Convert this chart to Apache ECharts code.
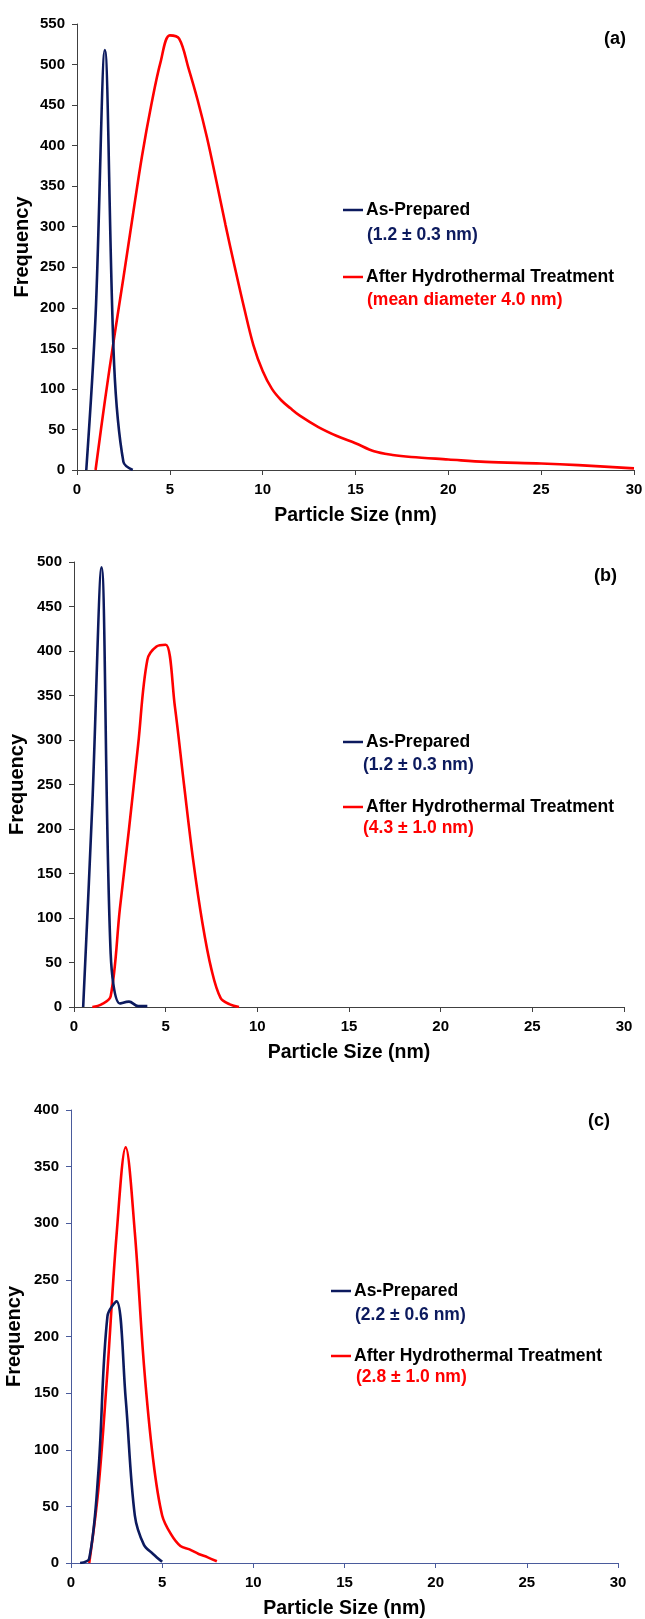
<!DOCTYPE html>
<html>
<head>
<meta charset="utf-8" />
<title>Particle size distributions</title>
<script src="https://cdn.jsdelivr.net/npm/echarts@6/dist/echarts.min.js"></script>
<style>
  html, body { margin: 0; padding: 0; background: #fff; }
  #chart { width: 645px; height: 1619px; }
</style>
</head>
<body>
<div id="chart"></div>
<script>
// ---- data ----
var seriesNames = ['As-Prepared', 'After Hydrothermal Treatment'];

// (a)
var sizeA_prep = [0.5, 1.0, 1.5, 2.0, 2.5, 3.0];
var freqA_prep = [0, 190, 518, 130, 10, 0];
var sizeA_hyd = [1.0, 1.5, 2.0, 2.5, 3.0, 3.5, 4.0, 4.5, 5.0, 5.5, 6.0, 6.5, 7.0, 7.5, 8.0, 8.5, 9.0, 9.5, 10, 10.5, 11, 11.5, 12, 13, 14, 15, 16, 17, 18, 20, 22, 25, 27, 30];
var freqA_hyd = [0, 85, 163, 237, 313, 387, 450, 503, 536, 532, 496, 456, 410, 357, 302, 250, 200, 154, 122, 100, 86, 76, 67, 53, 42, 33, 23, 18.5, 16, 13, 10, 8, 6, 2];

// (b)
var sizeB_prep = [0.5, 1.0, 1.5, 2.0, 2.5, 3.0, 3.5, 4.0];
var freqB_prep = [0, 228, 494, 60, 4, 6, 1, 1];
var sizeB_hyd = [1.0, 1.5, 2.0, 2.5, 3.0, 3.5, 4.0, 4.5, 5.0, 5.5, 6.0, 6.5, 7.0, 7.5, 8.0, 8.5, 9.0];
var freqB_hyd = [0, 3, 12, 110, 200, 295, 390, 405, 407, 338, 250, 165, 95, 42, 10, 3, 0];

// (c)
var sizeC_prep = [0.5, 1.0, 1.5, 2.0, 2.5, 3.0, 3.5, 4.0, 4.5, 5.0];
var freqC_prep = [0, 4, 80, 218, 231, 145, 42, 16, 8, 1];
var sizeC_hyd = [1.0, 1.5, 2.0, 2.5, 3.0, 3.5, 4.0, 4.5, 5.0, 5.5, 6.0, 6.5, 7.0, 7.5, 8.0];
var freqC_hyd = [0, 65, 170, 290, 367, 292, 175, 92, 42, 25, 15, 12, 8, 5, 1.5];

// axis ticks
var xTicks = { min: 0, max: 30, interval: 5 };
var yMaxA = 550, yMaxB = 500, yMaxC = 400, yStep = 50;

// legend second lines
var noteA = ['(1.2 \u00b1 0.3 nm)', '(mean diameter 4.0 nm)'];
var noteB = ['(1.2 \u00b1 0.3 nm)', '(4.3 \u00b1 1.0 nm)'];
var noteC = ['(2.2 \u00b1 0.6 nm)', '(2.8 \u00b1 1.0 nm)'];
var panelTags = ['(a)', '(b)', '(c)'];

// ---- helpers ----
var NAVY = '#0c1a5e', RED = '#ff0000';
var FONT = '"Liberation Sans", Arial, sans-serif';

function pairs(xs, ys) {
  var out = [];
  for (var i = 0; i < xs.length; i++) out.push([xs[i], ys[i]]);
  return out;
}

function xAxisFor(idx, axisColor) {
  return {
    type: 'value', gridIndex: idx,
    min: xTicks.min, max: xTicks.max, interval: xTicks.interval,
    name: 'Particle Size (nm)', nameLocation: 'middle', nameGap: 36,
    nameTextStyle: { fontFamily: FONT, fontWeight: 'bold', fontSize: 19.5, color: '#000' },
    axisLine: { lineStyle: { color: axisColor, width: 1 } },
    axisTick: { inside: false, length: 5, lineStyle: { color: axisColor } },
    axisLabel: { margin: 12, fontFamily: FONT, fontWeight: 'bold', fontSize: 15, color: '#000' },
    splitLine: { show: false }
  };
}

function yAxisFor(idx, max, axisColor, gap) {
  return {
    type: 'value', gridIndex: idx,
    min: 0, max: max, interval: yStep,
    name: 'Frequency', nameLocation: 'middle', nameGap: gap, nameMoveOverlap: false,
    nameTextStyle: { fontFamily: FONT, fontWeight: 'bold', fontSize: 20, color: '#000' },
    axisLine: { show: true, lineStyle: { color: axisColor, width: 1 } },
    axisTick: { show: true, inside: false, length: 5, lineStyle: { color: axisColor } },
    axisLabel: { margin: 12, fontFamily: FONT, fontWeight: 'bold', fontSize: 15, color: '#000' },
    splitLine: { show: false }
  };
}

function lineSeries(name, idx, xs, ys, color) {
  return {
    name: name, type: 'line', xAxisIndex: idx, yAxisIndex: idx,
    data: pairs(xs, ys), smooth: 0.35, showSymbol: false, symbol: 'none',
    lineStyle: { color: color, width: 2.6 }, itemStyle: { color: color },
    z: name === seriesNames[0] ? 3 : 2
  };
}

function legendFor(left, top, gap) {
  return {
    orient: 'vertical', left: left, top: top, itemGap: gap, padding: 0,
    icon: 'rect', itemWidth: 20, itemHeight: 2.5,
    data: seriesNames,
    textStyle: { fontFamily: FONT, fontWeight: 'bold', fontSize: 17.5, color: '#000', padding: [0, 0, 0, -2] }
  };
}

function note(text, x, y, color) {
  return {
    type: 'text', left: x, top: y - 9,
    style: { text: text, fill: color, font: 'bold 17.5px ' + FONT }
  };
}

function tag(text, x, y) {
  return {
    type: 'text', left: x - 12, top: y - 10,
    style: { text: text, fill: '#000', font: 'bold 18px ' + FONT }
  };
}

var chart = echarts.init(document.getElementById('chart'), null, { renderer: 'canvas' });

chart.setOption({
  backgroundColor: '#fff',
  animation: false,
  grid: [
    { left: 77, top: 24, width: 557, height: 446, outerBoundsMode: 'none' },
    { left: 74, top: 562, width: 550, height: 445, outerBoundsMode: 'none' },
    { left: 71, top: 1110, width: 547, height: 453, outerBoundsMode: 'none' }
  ],
  xAxis: [xAxisFor(0, '#404040'), xAxisFor(1, '#404040'), xAxisFor(2, '#4a5b9c')],
  yAxis: [
    yAxisFor(0, yMaxA, '#404040', 45),
    yAxisFor(1, yMaxB, '#404040', 47),
    yAxisFor(2, yMaxC, '#4a5b9c', 47)
  ],
  legend: [
    legendFor(343, 201, 49),
    legendFor(343, 733, 47),
    legendFor(331, 1282, 47)
  ],
  series: [
    lineSeries(seriesNames[1], 0, sizeA_hyd, freqA_hyd, RED),
    lineSeries(seriesNames[0], 0, sizeA_prep, freqA_prep, NAVY),
    lineSeries(seriesNames[1], 1, sizeB_hyd, freqB_hyd, RED),
    lineSeries(seriesNames[0], 1, sizeB_prep, freqB_prep, NAVY),
    lineSeries(seriesNames[1], 2, sizeC_hyd, freqC_hyd, RED),
    lineSeries(seriesNames[0], 2, sizeC_prep, freqC_prep, NAVY)
  ],
  graphic: [
    note(noteA[0], 367, 235, NAVY),
    note(noteA[1], 367, 300, RED),
    note(noteB[0], 363, 765, NAVY),
    note(noteB[1], 363, 828, RED),
    note(noteC[0], 355, 1315, NAVY),
    note(noteC[1], 356, 1377, RED),
    tag(panelTags[0], 616, 40),
    tag(panelTags[1], 606, 577),
    tag(panelTags[2], 600, 1122)
  ]
});

window.onresize = function () {
  chart.resize();
};
</script>
</body>
</html>
